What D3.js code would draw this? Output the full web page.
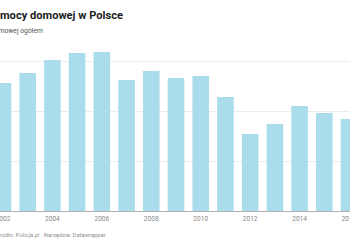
<!DOCTYPE html>
<html>
<head>
<meta charset="utf-8">
<script src="https://cdn.jsdelivr.net/npm/d3@7"></script>
<style>
  body { margin: 0; background: #fff; overflow: hidden; }
  svg { display: block; font-family: Roboto, "Noto Sans", sans-serif; }
</style>
</head>
<body>
<svg id="chart" width="350" height="250"></svg>
<script>
// ofiary przemocy domowej ogółem (Policja.pl)
const years = [2002, 2003, 2004, 2005, 2006, 2007, 2008, 2009, 2010, 2011, 2012, 2013, 2014, 2015, 2016];
const victims = [128000, 138000, 151000, 158000, 159000, 131000, 140000, 133000, 135000, 114000, 77000, 87000, 105000, 98000, 92000];
const tickYears = [2002, 2004, 2006, 2008, 2010, 2012, 2014, 2016];
const gridValues = [50000, 100000, 150000];

const title = "Ofiary przemocy domowej w Polsce";
const subtitle = "Liczba ofiar przemocy domowej ogółem";
const source = "Źródło: Policja.pl · Narzędzie: Datawrapper";

let svg = d3.select("#chart");

let data = years.map((y, i) => ({ year: y, value: victims[i] }));

// the view is a crop of a wider chart, so the band range runs past the edges
let x = d3.scaleBand()
    .domain(years)
    .range([-9.4, 361.4])
    .paddingInner(0.33)
    .paddingOuter(0.165);

let y = d3.scaleLinear()
    .domain([0, 150000])
    .range([211, 61]);

// gridlines
svg.append("g")
    .selectAll("line")
    .data(gridValues)
    .join("line")
    .attr("x1", 0)
    .attr("x2", 350)
    .attr("y1", d => Math.round(y(d)) + 0.5)
    .attr("y2", d => Math.round(y(d)) + 0.5)
    .attr("stroke", "#ececec")
    .attr("stroke-width", 1);

// bars
svg.append("g")
    .selectAll("rect")
    .data(data)
    .join("rect")
    .attr("x", d => x(d.year))
    .attr("y", d => y(d.value))
    .attr("width", x.bandwidth())
    .attr("height", d => y(0) - y(d.value))
    .attr("fill", "#aadcec");

// x axis
let xAxis = svg.append("g")
    .attr("transform", `translate(0, ${y(0)})`)
    .call(d3.axisBottom(x).tickValues(tickYears).tickSize(0).tickPadding(5));

xAxis.select(".domain")
    .attr("d", "M0,0.5H350")
    .attr("stroke", "#b0b0b0");

xAxis.selectAll("text")
    .attr("fill", "#888")
    .attr("font-size", "6.6px")
    .attr("font-family", "Roboto, sans-serif");

// place a long text so that the part after `cut` chars runs from x0 to x1
function cropText(str, cut, x0, x1, yPos, weight, fill) {
    let t = svg.append("text")
        .attr("y", yPos)
        .attr("font-size", "10px")
        .attr("font-weight", weight)
        .attr("fill", fill)
        .text(str);
    let node = t.node();
    let full = node.getComputedTextLength();
    let start = node.getSubStringLength(0, cut);
    let size = 10 * (x1 - x0) / (full - start);
    t.attr("font-size", size + "px");
    start = node.getSubStringLength(0, cut);
    t.attr("x", x0 - start);
    return t;
}

cropText(title, title.indexOf("mocy"), 0, 123, 19, "bold", "#1d1d1d");
cropText(subtitle, subtitle.indexOf("mowej"), -1.5, 43, 33, "normal", "#555");
cropText(source, 1, -0.5, 106, 236.5, "normal", "#8f8f8f");
</script>
</body>
</html>
